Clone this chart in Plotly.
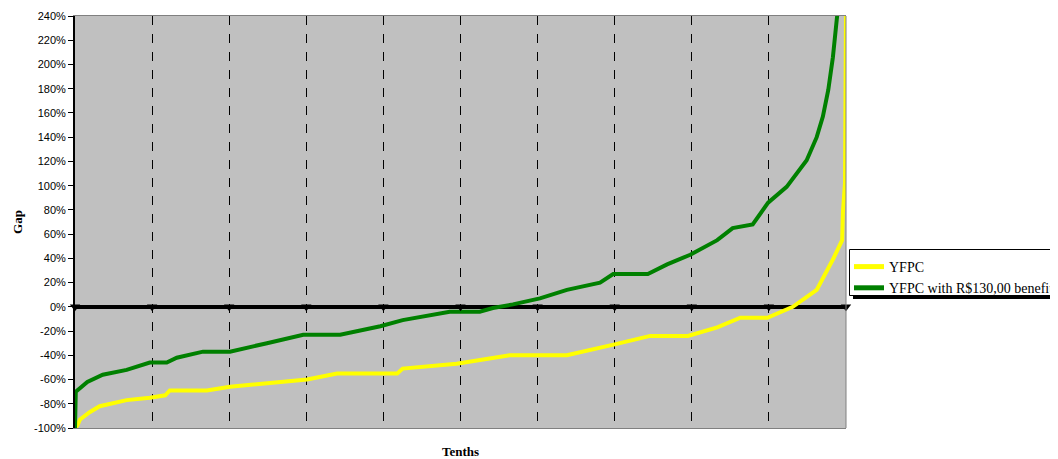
import plotly.graph_objects as go

# Position along the distribution, in tenths (0..10)
yfpc_x = [0.00, 0.03, 0.065, 0.19, 0.32, 0.52, 0.67, 0.97, 1.17, 1.23, 1.71, 2.01, 2.49,
          3.01, 3.40, 4.18, 4.25, 4.95, 5.64, 6.38, 7.00, 7.46, 7.95, 8.33, 8.63, 8.98,
          9.31, 9.62, 9.83, 9.95, 9.96, 9.987, 10.0]
yfpc_gap = [-100, -98, -93, -87, -82, -79, -77, -75, -73, -69, -69, -66, -63,
            -60, -55, -55, -51, -47, -40, -40, -31, -24, -24, -17, -9, -9,
            0, 14, 39, 55, 78, 102, 240]

benefit_x = [0.00, 0.01, 0.16, 0.36, 0.67, 0.97, 1.19, 1.32, 1.66, 2.01, 2.49, 2.96, 3.44,
             3.96, 4.25, 4.86, 5.25, 5.42, 5.68, 6.03, 6.38, 6.81, 6.98, 7.43, 7.68, 7.98,
             8.33, 8.53, 8.79, 8.99, 9.23, 9.49, 9.62, 9.70, 9.77, 9.83, 9.88, 9.92]
benefit_gap = [-100, -70, -62, -56, -52, -46, -46, -42, -37, -37, -30, -23, -23,
               -16, -11, -4, -4, -1, 2, 7, 14, 20, 27, 27, 35, 43,
               55, 65, 68, 86, 99, 121, 140, 157, 179, 206, 237, 260]

tenths = [0, 1, 2, 3, 4, 5, 6, 7, 8, 9, 10]
zero_marks = [0] * len(tenths)

y_tickvals = list(range(-100, 241, 20))
y_ticktext = [f"{v}%" for v in y_tickvals]

series_names = ["YFPC", "YFPC with R$130,00 benefit"]

fig = go.Figure()
fig.add_trace(go.Scatter(x=yfpc_x, y=yfpc_gap, mode="lines", name=series_names[0],
                         line=dict(color="#FFFF00", width=4)))
fig.add_trace(go.Scatter(x=benefit_x, y=benefit_gap, mode="lines",
                         name=series_names[1],
                         line=dict(color="#008000", width=4)))
fig.add_trace(go.Scatter(x=tenths, y=zero_marks, mode="markers",
                         marker=dict(symbol="triangle-down", size=9, color="black"),
                         showlegend=False, hoverinfo="skip", cliponaxis=False))

# page body adds an 8px offset; the figure runs past the right window edge
# so the legend is cut off there as in the reference
OFF = 8
W, H = 1090, 459 - OFF
L, T = 75 - OFF, 16 - OFF
pw, ph = 771, 412
R = W - L - pw
B = H - T - ph

def px_x(xw):  # window x -> paper x
    return (xw - 75) / pw

def px_y(yw):  # window y -> paper y
    return (428 - yw) / ph

fig.update_layout(
    width=W, height=H,
    margin=dict(l=L, r=R, t=T, b=B, pad=0, autoexpand=False),
    paper_bgcolor="white",
    plot_bgcolor="#C0C0C0",
    font=dict(family="Liberation Sans, Arial, sans-serif", size=11, color="black"),
    xaxis=dict(range=[0, 10], dtick=1, tick0=0, showticklabels=False, ticks="",
               automargin=False,
               showgrid=True, gridcolor="black", griddash="dash", gridwidth=1,
               zeroline=False, showline=True, linecolor="#808080", linewidth=1, mirror=True,
               title=dict(text="<b>Tenths</b>", standoff=22,
                          font=dict(family="Liberation Serif, Times New Roman, serif", size=13))),
    yaxis=dict(range=[-100, 240], tickvals=y_tickvals, ticktext=y_ticktext,
               ticks="outside", ticklen=5, tickcolor="black", tickwidth=1,
               automargin=False,
               showgrid=False, zeroline=True, zerolinecolor="black", zerolinewidth=4,
               showline=True, linecolor="black", linewidth=2,
               title=dict(text="<b>Gap</b>", standoff=8,
                          font=dict(family="Liberation Serif, Times New Roman, serif", size=13))),
    legend=dict(x=px_x(849), xanchor="left", y=px_y(251), yanchor="top",
                bgcolor="rgba(0,0,0,0)", borderwidth=0,
                font=dict(family="Liberation Serif, Times New Roman, serif", size=14),
                tracegroupgap=0, itemsizing="constant"),
    shapes=[
        dict(type="line", xref="paper", yref="paper", x0=1, x1=1, y0=0, y1=1,
             line=dict(color="#808080", width=1)),
        # legend shadow and frame (running off the right edge of the window)
        dict(type="rect", xref="paper", yref="paper",
             x0=px_x(853), x1=px_x(1120), y0=px_y(299), y1=px_y(290),
             fillcolor="black", line=dict(width=0), layer="above"),
        dict(type="rect", xref="paper", yref="paper",
             x0=px_x(849.5), x1=px_x(1120), y0=px_y(295.5), y1=px_y(249.5),
             fillcolor="white", line=dict(color="black", width=1), layer="above"),
    ],
)

fig.write_html("out.html")
